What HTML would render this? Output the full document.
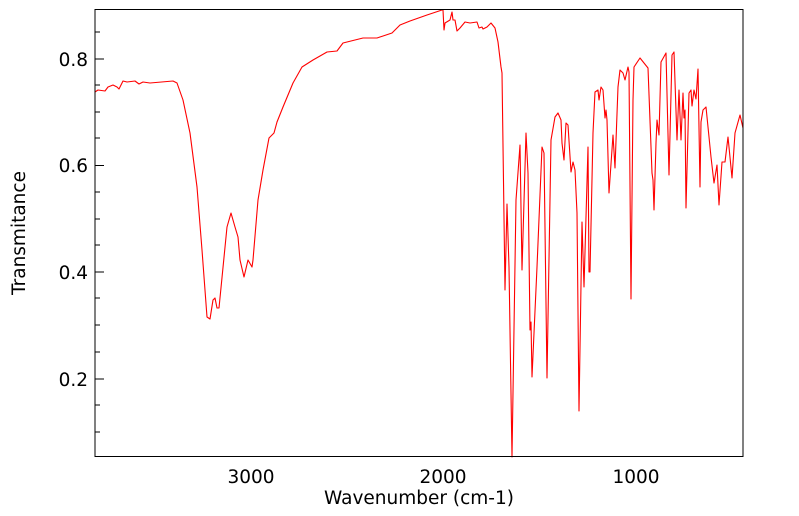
<!DOCTYPE html>
<html><head><meta charset="utf-8"><style>
html,body{margin:0;padding:0;background:#fff;}
svg{display:block;font-family:"DejaVu Sans","Liberation Sans",sans-serif;}
</style></head><body>
<svg width="799" height="516" viewBox="0 0 799 516" xmlns="http://www.w3.org/2000/svg">
<rect width="799" height="516" fill="#fff"/>
<g stroke="#000" stroke-width="1">
<line x1="95" y1="32" x2="100" y2="32"/><line x1="95" y1="59" x2="104" y2="59"/>
<line x1="95" y1="85" x2="100" y2="85"/><line x1="95" y1="112" x2="100" y2="112"/>
<line x1="95" y1="138" x2="100" y2="138"/><line x1="95" y1="165.5" x2="104" y2="165.5"/>
<line x1="95" y1="192" x2="100" y2="192"/><line x1="95" y1="219" x2="100" y2="219"/>
<line x1="95" y1="245" x2="100" y2="245"/><line x1="95" y1="272" x2="104" y2="272"/>
<line x1="95" y1="298" x2="100" y2="298"/><line x1="95" y1="325" x2="100" y2="325"/>
<line x1="95" y1="352" x2="100" y2="352"/><line x1="95" y1="379" x2="104" y2="379"/>
<line x1="95" y1="405" x2="100" y2="405"/><line x1="95" y1="432" x2="100" y2="432"/>
</g>
<g stroke="#000" stroke-width="1" id="xt"></g>
<path fill="none" stroke="#ff0000" stroke-width="1.1" stroke-linejoin="round" d="M95,92 L98,90 L105,91 L108,87 L113,85 L117,87 L119,89 L123,81 L127,82 L135,81 L139,84 L143,82 L150,83 L173,81 L177,83 L183,100 L190,133 L197,187 L202,250 L207,317 L210,319 L213,300 L215,298 L217,308 L219,308 L227,227 L231,213 L235,227 L238,237 L240,260 L244,277 L248,260 L252,267 L253,260 L258,200 L263,170 L269,138 L274,133 L277,122 L283,107 L293,83 L302,67 L313,60 L327,52 L337,51 L343,43 L363,38 L377,38 L392,33 L400,25 L410,21 L427,15 L442,10 L443,10 L444,30 L445,23 L450,20 L452,12 L453,20 L455,20 L457,31 L460,28 L465,22 L470,23 L477,22 L479,28 L482,27 L483,29 L487,27 L491,23 L495,28 L498,42 L501,67 L502,73 L505,290 L507,204 L509,267 L512,457 L516,200 L520,145 L522,270 L526,133 L528,173 L530,330 L531,322 L532,377 L537,267 L542,147 L544,153 L547,378 L551,140 L555,117 L558,113 L561,120 L562,143 L564,160 L566,123 L568,125 L571,172 L573,162 L575,170 L577,213 L579,411 L582,222 L584,287 L588,147 L589,272 L590,272 L593,133 L595,92 L598,90 L599,100 L601,87 L603,90 L605,118 L606,110 L607,120 L609,193 L613,135 L615,168 L618,87 L620,70 L623,73 L625,80 L628,67 L629,72 L631,299 L633,100 L634,67 L640,58 L648,68 L652,173 L653,180 L654,210 L656,143 L657,120 L659,135 L661,62 L666,53 L669,175 L672,55 L674,52 L677,140 L679,90 L681,140 L683,93 L684,118 L685,110 L686,208 L689,93 L691,90 L692,106 L694,90 L696,99 L698,69 L700,187 L701,122 L703,110 L706,107 L708,127 L711,157 L714,183 L717,165 L719,205 L722,162 L725,162 L728,137 L729,147 L732,178 L735,133 L740,115 L743,128"/>
<rect x="95" y="9.5" width="648" height="447" fill="none" stroke="#000" stroke-width="1"/>
<g font-size="18.5" fill="#000">
<text x="88" y="66" text-anchor="end">0.8</text>
<text x="88" y="172" text-anchor="end">0.6</text>
<text x="88" y="279" text-anchor="end">0.4</text>
<text x="88" y="386" text-anchor="end">0.2</text>
<text x="251" y="483" text-anchor="middle">3000</text>
<text x="443" y="483" text-anchor="middle">2000</text>
<text x="636" y="483" text-anchor="middle">1000</text>
<text x="419" y="504" text-anchor="middle">Wavenumber (cm-1)</text>
<text transform="translate(25,233) rotate(-90)" text-anchor="middle">Transmitance</text>
</g>
<script>
var g=document.getElementById('xt');var s='';
for(var w=3800;w>=500;w-=100){var x=251+(3000-w)*0.19267;if(x<96||x>742)continue;var L=(w%1000==0)?9:5;
s+='<line x1="'+x.toFixed(1)+'" y1="456.5" x2="'+x.toFixed(1)+'" y2="'+(456.5-L)+'"/>';}
g.innerHTML=s;
</script>
</svg>
</body></html>
